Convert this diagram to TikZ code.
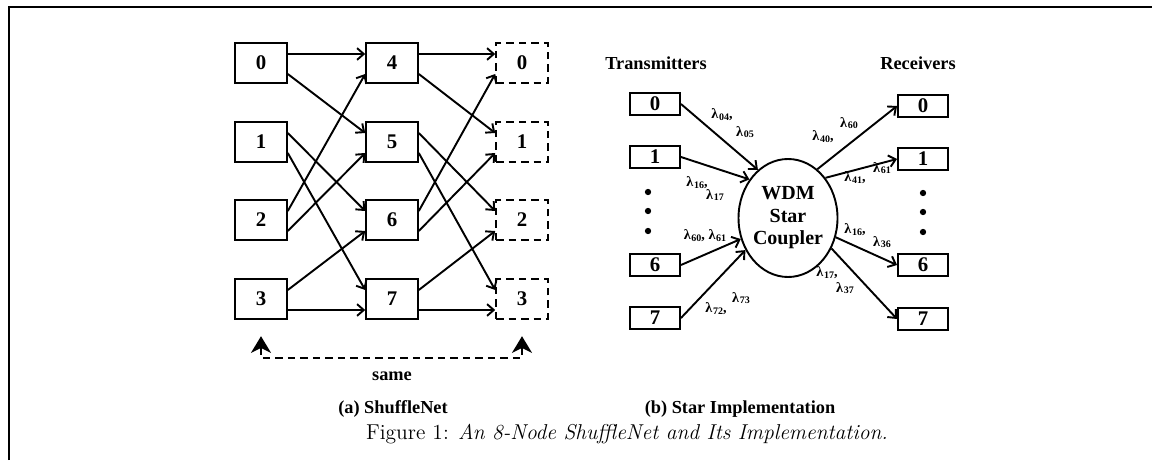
\documentclass[tikz,border=0pt]{standalone}
\usepackage{fontspec}
\usetikzlibrary{arrows.meta, calc, shapes.geometric}
\newfontfamily\tms{Liberation Serif}
\newcommand\wl[1]{λ\kern.4pt\raisebox{-.8pt}{\fontsize{6}{6}\selectfont#1}}

\begin{document}
\begin{tikzpicture}[x=0.6pt, y=-0.6pt, line width=1.15pt,
  box/.style={draw, minimum width=31pt, minimum height=23.5pt, inner sep=0pt, font=\tms\bfseries\fontsize{12.5}{12.5}\selectfont},
  ghost/.style={box, dash pattern=on 4.5pt off 3pt},
  tbox/.style={draw, minimum width=30pt, minimum height=13.5pt, inner sep=0pt, font=\tms\bfseries\fontsize{12.5}{12.5}\selectfont},
  link/.style={-{Straight Barb[length=4pt,width=7pt]}},
  same/.style={dash pattern=on 4.5pt off 3pt, {Stealth[length=10pt,width=12pt,inset=3pt]}-{Stealth[length=10pt,width=12pt,inset=3pt]}, shorten <=10pt, shorten >=10pt},
  coupler/.style={ellipse, draw, minimum width=52.8pt, minimum height=70.8pt, inner sep=0pt, align=center, font=\tms\bfseries\fontsize{12}{13.5}\selectfont},
  lam/.style={inner sep=0pt, font=\tms\bfseries\fontsize{8.5}{8.5}\selectfont},
  title/.style={inner sep=0pt, font=\tms\bfseries\fontsize{11}{11}\selectfont},
  dot/.style={circle, fill, inner sep=0pt, minimum size=3.8pt}]
\useasboundingbox (0,0) rectangle (1152,460);
\draw (9,460) -- (9,7) -- (1152,7);

% (a) shufflenet, three columns
\foreach \i/\y in {0/63,1/142,2/220,3/299} \node[box] (a\i) at (261,\y) {\i};
\foreach \i/\y in {4/63,5/142,6/220,7/299} \node[box] (b\i) at (392,\y) {\i};
\foreach \i/\y in {0/63,1/142,2/220,3/299} \node[ghost] (c\i) at (522,\y) {\i};
\foreach \s/\so/\t/\ti in {a0/-9/b4/-9, a0/11/b5/-9, a1/-9/b6/-9, a1/11/b7/-9,
    a2/-9/b4/11, a2/11/b5/11, a3/-9/b6/11, a3/11/b7/11,
    b4/-9/c0/-9, b4/11/c1/-9, b5/-9/c2/-9, b5/11/c3/-9,
    b6/-9/c0/11, b6/11/c1/11, b7/-9/c2/11, b7/11/c3/11}
  \draw[link] ($(\s.east)+(0,\so)$) -- ($(\t.west)+(0,\ti)$);
\coordinate (sm) at (392,358);
\draw[same] (a3.south) -- (a3.south |- sm) -- (c3.south |- sm) -- (c3.south);
\node[title] (samelbl) at (392,376) {same};

% (b) star coupler
\node[title] (tx) at (656,63) {Transmitters};
\node[title] (rx) at (918,63) {Receivers};
\foreach \i/\y in {0/104,1/157,6/265,7/318} \node[tbox] (t\i) at (655,\y) {\i};
\foreach \i/\y in {0/106,1/159,6/265,7/319} \node[tbox] (r\i) at (923,\y) {\i};
\foreach \k/\y in {1/192,2/211,3/231} {
  \node[dot] (td\k) at (648,\y) {};
  \node[dot] (rd\k) at (923,\y+1) {};
}
\node[coupler] (wdm) at (788,218) {WDM\\Star\\Coupler};
\draw[link] (t0.east) -- (wdm.122);
\draw[link] (t1.east) -- (wdm.135);
\draw[link] (t6.east) -- (wdm.204);
\draw[link] (t7.east) -- (wdm.217);
\draw[link] (wdm.59) -- (r0.west);
\draw[link] (wdm.47) -- (r1.west);
\draw[link] (wdm.-22) -- (r6.west);
\draw[link] (wdm.-35) -- (r7.west);

\node[lam] (l1a) at (722,115) {\wl{04},};
\node[lam] (l1b) at (745,132) {\wl{05}};
\node[lam] (l2a) at (697,183) {\wl{16},};
\node[lam] (l2b) at (715,195) {\wl{17}};
\node[lam] (l3) at (705,236) {\wl{60}, \wl{61}};
\node[lam] (l4a) at (716,309) {\wl{72},};
\node[lam] (l4b) at (741,298) {\wl{73}};
\node[lam] (l5a) at (823,137) {\wl{40},};
\node[lam] (l5b) at (849,123) {\wl{60}};
\node[lam] (l6a) at (855,178) {\wl{41},};
\node[lam] (l6b) at (882,168) {\wl{61}};
\node[lam] (l7a) at (855,230) {\wl{16},};
\node[lam] (l7b) at (882,242) {\wl{36}};
\node[lam] (l8a) at (827,273) {\wl{17},};
\node[lam] (l8b) at (845,288) {\wl{37}};

% captions
\node[title] (capa) at (393,409) {(a) ShuffleNet};
\node[title] (capb) at (740,409) {(b) Star Implementation};
\node[inner sep=0pt, font=\fontsize{12.9}{14}\selectfont] (fig) at (627,434) {Figure 1: \textit{An 8-Node ShuffleNet and Its Implementation.}};
\end{tikzpicture}
\end{document}
